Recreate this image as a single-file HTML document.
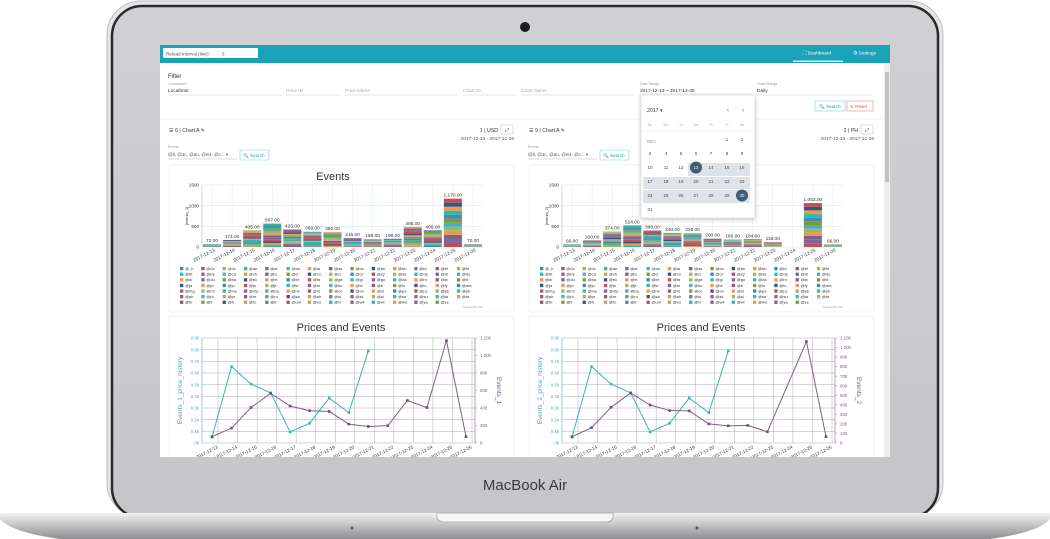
<!DOCTYPE html>
<html><head><meta charset="utf-8"><style>
html,body{margin:0;padding:0;background:#fff;width:1050px;height:539px;overflow:hidden}
svg{display:block;font-family:"Liberation Sans",sans-serif}
</style></head><body>
<svg id="root" width="1050" height="539" viewBox="0 0 1050 539">
<defs>
<linearGradient id="base" x1="0" y1="0" x2="0" y2="1"><stop offset="0" stop-color="#f2f2f3"/><stop offset="0.35" stop-color="#cfcfd1"/><stop offset="1" stop-color="#8e8e90"/></linearGradient>
<linearGradient id="lid" x1="0" y1="0" x2="0" y2="1"><stop offset="0" stop-color="#d0d0d2"/><stop offset="1" stop-color="#c6c6c8"/></linearGradient>
<clipPath id="scr"><rect x="160" y="45" width="730" height="412"/></clipPath>
</defs>
<rect x="107" y="1" width="836" height="516" rx="34" fill="#e6e6e8" stroke="#bdbdbf"/>
<rect x="112" y="6" width="826" height="512" rx="30" fill="url(#lid)" stroke="#2a2a2c" stroke-width="2.5"/>
<circle cx="525" cy="27" r="5" fill="#1c1c1e"/>
<text x="525" y="490" text-anchor="middle" font-size="15" fill="#3a3a3c">MacBook Air</text>
<path d="M0 513 L1050 513 L1050 519 Q1040 532 990 539 L60 539 Q10 532 0 519 Z" fill="url(#base)"/>
<path d="M437 513 L613 513 L613 518 Q611 522 605 522 L445 522 Q439 522 437 518 Z" fill="#f7f7f8" stroke="#a8a8aa" stroke-width="0.8"/>
<circle cx="352" cy="528" r="1.5" fill="#555"/><circle cx="697" cy="528" r="1.5" fill="#555"/>

<g id="screen" clip-path="url(#scr)">
<rect x="160" y="45" width="730" height="412" fill="#fff"/>
<rect x="160" y="45" width="730" height="18" fill="#1aa3b8"/>
<rect x="163" y="48" width="95" height="10" fill="#fff" rx="1"/>
<text x="166" y="55.5" font-size="4.6" fill="#555">Reload Interval (Min)</text>
<line x1="218" y1="49" x2="218" y2="57" stroke="#ddd" stroke-width="0.5"/>
<text x="222" y="55.5" font-size="4.6" fill="#555">5</text>
<rect x="793" y="60.5" width="50" height="1.5" fill="#fff" opacity="0.8"/>
<text x="803" y="54.5" font-size="4.8" fill="#fff">⛶ Dashboard</text>
<text x="853" y="54.5" font-size="4.8" fill="#fff">⚙ Settings</text>
<rect x="884" y="63" width="6" height="394" fill="#eee"/><rect x="885" y="72" width="4" height="110" fill="#c1c1c1"/>

<text x="168" y="78" font-size="6" fill="#333">Filter</text>
<g font-size="4.8" fill="#999" id="filters"></g>
<rect x="815" y="101" width="30" height="10" fill="#fff" stroke="#7dcfdc" stroke-width="0.6"/>
<text x="819" y="108" font-size="4.6" fill="#1aa3b8">🔍 Search</text>
<rect x="847" y="101" width="26" height="10" fill="#fff" stroke="#e88" stroke-width="0.6"/>
<text x="850" y="108" font-size="4.6" fill="#d9534f">↻ Reset</text>
<line x1="160" y1="119" x2="884" y2="119" stroke="#eee" stroke-width="0.8"/>
<g id="panels"></g>

<g id="picker">
<rect x="641" y="95" width="114" height="123" fill="#fff" stroke="#ddd" stroke-width="0.6" style="filter:drop-shadow(0 1px 2px rgba(0,0,0,.25))"/>
</g>
</g>
</svg>
<script>
const NS='http://www.w3.org/2000/svg';
function el(tag,attrs,parent,txt){const e=document.createElementNS(NS,tag);for(const k in attrs)e.setAttribute(k,attrs[k]);if(txt!==undefined)e.textContent=txt;parent.appendChild(e);return e;}

const dates=['2017-12-13','2017-12-14','2017-12-15','2017-12-16','2017-12-17','2017-12-18','2017-12-19','2017-12-20','2017-12-21','2017-12-22','2017-12-23','2017-12-24','2017-12-25','2017-12-26'];
const eventsTotal1=[72,171,405,567,423,369,360,216,189,198,486,405,1170,72];
const eventsTotal2=[66,160,374,524,398,340,336,200,180,184,118,null,1063,66];
const priceHistory1=[0.05,0.655,0.505,0.43,0.095,0.17,0.385,0.26,0.79];
const priceHistory2=[0.05,0.655,0.505,0.43,0.095,0.17,0.385,0.26,0.79];
const barTicks=[0,500,1000,1500];
const priceTicks=['0k','0.1k','0.2k','0.3k','0.4k','0.5k','0.6k','0.7k','0.8k','0.9k'];
const eventTicks1=['0','200','400','600','800','1,000','1,200'];
const eventTicks2=['0','100','200','300','400','500','600','700','800','900','1,000','1,100'];
const legendNames=['@_b','@0x','@4c','@ae','@al','@an','@ar','@as','@bc','@be','@bh','@bi','@bl','@br','@bt','@by','@ca','@ch','@ci','@cl','@co','@cr','@cx','@cy','@da','@de','@di','@do','@dr','@du','@ea','@ec','@el','@et','@fa','@ge','@gl','@go','@ha','@hr','@ib','@it','@ja','@jd','@jo','@js','@jt','@ki','@kr','@ku','@le','@li','@lo','@lu','@ly','@ma','@mg','@mi','@mu','@my','@na','@ne','@ni','@no','@on','@or','@pa','@pc','@pe','@ph','@pk','@pl','@pr','@re','@ru','@sa','@sh','@si','@sk','@sl','@so','@su','@ta','@te','@th','@ti','@tl','@to','@tr','@um','@us','@vi','@w4','@wi','@wo','@ya','@ze'];
const palette=['#4F81BC','#C0504E','#9BBB58','#23BFAA','#8064A1','#4AACC5','#F79647','#7F6084','#77A033','#33558B','#E59566'];

const F=document.getElementById('filters');
const fields=[['Localhost',168,282,'Connection*','#333'],['Price ID',286,340,'',''],['Price Name',345,458,'',''],['Chart ID',463,516,'',''],['Chart Name',521,634,'',''],['2017-12-13 ~ 2017-12-30',640,752,'Date Range','#333'],['Daily',757,872,'Chart Range','#333']];
fields.forEach(f=>{
  const g=el('g',{},F);
  
  
  if(f[3])el('text',{x:f[1],y:85,'font-size':3.6,fill:'#999'},g,f[3]);
  el('text',{x:f[1],y:92,'font-size':4.8,fill:f[4]||'#aaa'},g,f[0]);
  el('line',{x1:f[1],y1:95,x2:f[2],y2:95,stroke:'#ccc','stroke-width':0.5},g);
});

const P=document.getElementById('panels');
function panel(ox,id,cur,totals,prices,evTicks,evMax,axisName){
  const g=el('g',{},P);
  
  
  el('text',{x:169+ox,y:132,'font-size':5.2,fill:'#333'},g,'☰ '+id+' | Chart A ✎');
  el('text',{x:498+ox,y:132,'font-size':5.2,fill:'#333','text-anchor':'end'},g,cur);
  const eb=el('rect',{x:501+ox,y:125,width:12,height:9,fill:'#fff',stroke:'#bbb','stroke-width':0.5},g);
  
  
  el('text',{x:507+ox,y:131.5,'font-size':5,fill:'#333','text-anchor':'middle'},g,'⤢');
  el('text',{x:514+ox,y:140,'font-size':4.8,fill:'#555','text-anchor':'end'},g,'2017-12-13 - 2017-12-26');
  el('text',{x:168+ox,y:148,'font-size':3.4,fill:'#999'},g,'Events');
  const sel=el('text',{x:168+ox,y:156,'font-size':4.5,fill:'#555'},g,'@lt, @1c, @au, @w4, @c... ▾');
  
  
  el('line',{x1:168+ox,y1:159,x2:237+ox,y2:159,stroke:'#bbb','stroke-width':0.5},g);
  const sb=el('rect',{x:240+ox,y:150,width:29,height:10,fill:'#fff',stroke:'#7dcfdc','stroke-width':0.6,rx:1},g);
  
  
  el('text',{x:243+ox,y:157,'font-size':4.6,fill:'#1aa3b8'},g,'🔍 Search');
  el('rect',{x:169+ox,y:165,width:345,height:147,fill:'#fff',stroke:'#eee','stroke-width':0.8,rx:2},g);
  el('rect',{x:169+ox,y:316,width:345,height:160,fill:'#fff',stroke:'#eee','stroke-width':0.8,rx:2},g);

  const bc=el('g',{},g);
  
  
  el('text',{x:333+ox,y:180,'font-size':11,fill:'#333','text-anchor':'middle'},bc,'Events');
  const x0=202+ox,x1=483+ox,yTop=185,yBot=247;
  const by=v=>yBot-(v/1500)*(yBot-yTop);
  const step=(x1-x0)/dates.length;
  const bx=i=>x0+step*(i+0.5);
  barTicks.forEach(t=>{
    el('line',{x1:x0,y1:by(t),x2:x1,y2:by(t),stroke:'#ddd','stroke-width':0.5},bc);
    el('text',{x:x0-3,y:by(t)+1.6,'font-size':4.6,fill:'#333','text-anchor':'end'},bc,t);
  });
  dates.forEach((d,i)=>el('line',{x1:bx(i),y1:yTop,x2:bx(i),y2:yBot,stroke:'#d4ecf2','stroke-width':0.5},bc));
  el('line',{x1:x0,y1:yTop,x2:x0,y2:yBot,stroke:'#bbb','stroke-width':0.6},bc);
  el('text',{x:0,y:0,'font-size':4,fill:'#333','text-anchor':'middle',transform:`translate(${x0-14},${(yTop+yBot)/2}) rotate(-90)`},bc,axisName);
  totals.forEach((v,i)=>{
    if(v==null)return;
    const w=step*0.9, segs=12;
    for(let s=0;s<segs;s++){
      const r=el('rect',{x:bx(i)-w/2,y:by(v*(s+1)/segs),width:w,height:by(v*s/segs)-by(v*(s+1)/segs),fill:palette[(s*3+i)%palette.length]},bc);
      
      
    }
    el('text',{x:bx(i),y:by(v)-2,'font-size':4.8,fill:'#333','text-anchor':'middle'},bc,v.toFixed(2).replace(/\B(?=(\d{3})+(?!\d))/g,','));
  });
  dates.forEach((d,i)=>el('text',{x:0,y:0,'font-size':4.6,fill:'#333','text-anchor':'end',transform:`translate(${bx(i)+3},${yBot+4}) rotate(-28)`},bc,d));
  const lg=el('g',{},bc);
  
  
  legendNames.forEach((n,k)=>{
    const c=k%14,r=Math.floor(k/14);
    const lx=180+ox+c*21.3, ly=270+r*5.6;
    const it=el('g',{},lg);
    
    
    el('rect',{x:lx,y:ly-3,width:3.3,height:3.3,fill:palette[k%palette.length]},it);
    el('text',{x:lx+5,y:ly,'font-size':4,fill:'#333'},it,n);
  });
  el('text',{x:483+ox,y:308,'font-size':3,fill:'#999','text-anchor':'end'},bc,'CanvasJS.com');

  const lc=el('g',{},g);
  
  
  el('text',{x:341+ox,y:331,'font-size':11,fill:'#333','text-anchor':'middle'},lc,'Prices and Events');
  const lx0=202+ox,lx1=475+ox,ly0=338,ly1=443;
  const ls=(466-212)/13;
  const px=i=>212+ox+i*ls;
  const pyL=v=>ly1-(v/0.9)*(ly1-ly0);
  const pyR=v=>ly1-(v/evMax)*(ly1-ly0);
  priceTicks.forEach((t,k)=>{
    const yy=pyL(k*0.1);
    el('line',{x1:lx0,y1:yy,x2:lx1,y2:yy,stroke:'#aaa','stroke-width':0.5},lc);
    el('text',{x:lx0-3,y:yy+1.6,'font-size':4.4,fill:'#4AACC5','text-anchor':'end'},lc,t);
  });
  evTicks.forEach((t,k)=>{
    const yy=pyR(k*(evMax/(evTicks.length-1)));
    el('line',{x1:lx1,y1:yy,x2:lx1+2,y2:yy,stroke:'#999','stroke-width':0.5},lc);
    el('text',{x:lx1+5,y:yy+1.6,'font-size':4.4,fill:'#7F6084'},lc,t);
  });
  dates.forEach((d,i)=>el('line',{x1:px(i)+6,y1:ly0,x2:px(i)+6,y2:ly1,stroke:'#aaa','stroke-width':0.5},lc));
  el('line',{x1:lx0,y1:ly0,x2:lx0,y2:ly1,stroke:'#4AACC5','stroke-width':0.6},lc);
  el('line',{x1:lx1,y1:ly0,x2:lx1,y2:ly1,stroke:'#7F6084','stroke-width':0.6},lc);
  const nm=axisName.replace('[','').replace(']','');
  const cap=nm.charAt(0).toUpperCase()+nm.slice(1);
  el('text',{x:0,y:0,'font-size':6.5,fill:'#4AACC5','text-anchor':'middle',transform:`translate(${lx0-20},${(ly0+ly1)/2}) rotate(-90)`},lc,cap+'_price_history');
  el('text',{x:0,y:0,'font-size':6.5,fill:'#7F6084','text-anchor':'middle',transform:`translate(${lx1+22},${(ly0+ly1)/2}) rotate(90)`},lc,cap);
  const ppts=prices.map((v,i)=>[px(i),pyL(v)]);
  const pl=el('polyline',{points:ppts.map(p=>p.join(',')).join(' '),fill:'none',stroke:'#3bb3c3','stroke-width':1},lc);
  
  
  const epts=[];totals.forEach((v,i)=>{if(v!=null)epts.push([px(i),pyR(v)]);});
  const ep=el('polyline',{points:epts.map(p=>p.join(',')).join(' '),fill:'none',stroke:'#7F6084','stroke-width':1},lc);
  
  
  ppts.forEach(p=>{const c=el('rect',{x:p[0]-1.3,y:p[1]-1.3,width:2.6,height:2.6,fill:'#3bb3c3'},lc);});
  epts.forEach(p=>{const c=el('rect',{x:p[0]-1.3,y:p[1]-1.3,width:2.6,height:2.6,fill:'#6b4f74'},lc);});
  dates.forEach((d,i)=>el('text',{x:0,y:0,'font-size':4.6,fill:'#333','text-anchor':'end',transform:`translate(${px(i)+6},${ly1+5}) rotate(-28)`},lc,d));
}
panel(0,6,'1 | USD',eventsTotal1,priceHistory1,eventTicks1,1200,'[events_1]');
panel(360,9,'2 | PH',eventsTotal2,priceHistory2,eventTicks2,1100,'[events_2]');

const pk=document.getElementById('picker');
el('text',{x:647,y:112,'font-size':5.2,fill:'#333'},pk,'2017 ▾');
el('text',{x:727,y:112,'font-size':6,fill:'#555'},pk,'‹');
el('text',{x:742,y:112,'font-size':6,fill:'#555'},pk,'›');
const cols=[650,666,681,696,711,727,742];
['Su','Mo','Tu','We','Th','Fr','Sa'].forEach((d,i)=>el('text',{x:cols[i],y:126,'font-size':3.6,fill:'#aaa','text-anchor':'middle'},pk,d));
el('line',{x1:641,y1:131,x2:755,y2:131,stroke:'#eee','stroke-width':0.6},pk);
el('rect',{x:688,y:163,width:62,height:13,fill:'#dde3e8'},pk);
el('rect',{x:643,y:177,width:107,height:12,fill:'#dde3e8'},pk);
el('rect',{x:643,y:190,width:107,height:13,fill:'#dde3e8'},pk);
el('text',{x:647,y:143,'font-size':4.4,fill:'#999'},pk,'DEC');
const rowsY=[141,155,169,183,197,211];
for(let d=1;d<=31;d++){
  const pos=d+4;
  const r=Math.floor(pos/7),c=pos%7;
  const sel=(d===13||d===30);
  if(sel)el('circle',{cx:cols[c],cy:rowsY[r]-1.5,r:6,fill:'#3e5c75'},pk);
  const t=el('text',{x:cols[c],y:rowsY[r],'font-size':4.4,fill:sel?'#fff':'#444','text-anchor':'middle'},pk,d);
  
  
}
</script>
</body></html>
